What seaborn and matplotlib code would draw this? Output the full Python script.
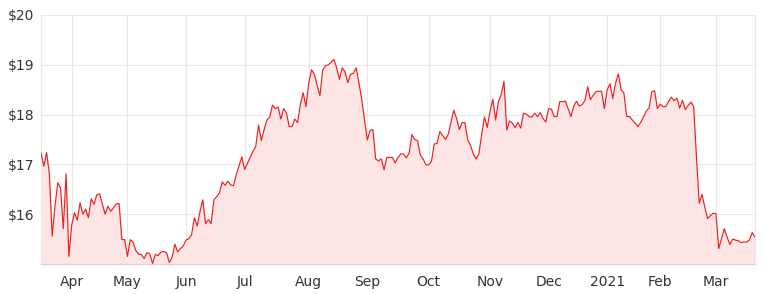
import numpy as np
import pandas as pd
import matplotlib
matplotlib.use("Agg")
import matplotlib.pyplot as plt
import seaborn as sns

# ---- data ----
start_date = "2020-03-17"
end_date = "2021-03-19"
holidays = ["2020-04-10", "2020-04-13", "2020-06-08", "2020-12-25",
            "2020-12-28", "2021-01-01", "2021-01-26"]

price = [
    17.23, 16.96, 17.24, 16.81, 15.56, 16.15, 16.63, 16.53, 15.71, 16.81,
    15.15, 15.78, 16.03, 15.88, 16.23, 16.00, 16.10, 15.93, 16.31, 16.20,
    16.39, 16.41, 16.20, 16.00, 16.16, 16.06, 16.13, 16.21, 16.21, 15.49,
    15.49, 15.15, 15.49, 15.44, 15.27, 15.20, 15.19, 15.11, 15.23, 15.20,
    15.01, 15.19, 15.17, 15.24, 15.25, 15.23, 15.03, 15.13, 15.40, 15.24,
    15.31, 15.36, 15.48, 15.51, 15.59, 15.93, 15.76, 16.05, 16.29, 15.81,
    15.89, 15.81, 16.29, 16.35, 16.43, 16.65, 16.58, 16.66, 16.59, 16.57,
    16.79, 16.97, 17.15, 16.90, 17.02, 17.14, 17.26, 17.36, 17.79, 17.48,
    17.70, 17.89, 17.95, 18.19, 18.12, 18.15, 17.91, 18.12, 18.03, 17.76,
    17.76, 17.91, 17.84, 18.21, 18.44, 18.16, 18.63, 18.90, 18.81, 18.59,
    18.38, 18.89, 18.98, 19.00, 19.05, 19.11, 18.94, 18.71, 18.94, 18.86,
    18.64, 18.81, 18.83, 18.94, 18.63, 18.30, 17.89, 17.49, 17.68, 17.70,
    17.11, 17.07, 17.11, 16.89, 17.14, 17.14, 17.14, 17.03, 17.14, 17.21,
    17.21, 17.13, 17.23, 17.60, 17.50, 17.48, 17.19, 17.11, 16.99, 16.99,
    17.06, 17.41, 17.42, 17.66, 17.58, 17.50, 17.60, 17.85, 18.09, 17.92,
    17.70, 17.84, 17.84, 17.49, 17.38, 17.21, 17.11, 17.21, 17.60, 17.95,
    17.74, 18.07, 18.31, 17.89, 18.26, 18.40, 18.67, 17.69, 17.87, 17.83,
    17.74, 17.84, 17.73, 18.03, 18.01, 17.96, 17.95, 18.03, 17.96, 18.04,
    17.92, 17.85, 18.12, 18.11, 17.96, 17.96, 18.26, 18.26, 18.27, 18.12,
    17.96, 18.17, 18.27, 18.17, 18.20, 18.28, 18.56, 18.30, 18.39, 18.46,
    18.47, 18.47, 18.12, 18.50, 18.62, 18.32, 18.63, 18.82, 18.50, 18.43,
    17.96, 17.96, 17.89, 17.83, 17.76, 17.84, 17.95, 18.07, 18.13, 18.46,
    18.48, 18.12, 18.21, 18.16, 18.16, 18.26, 18.35, 18.28, 18.33, 18.13,
    18.29, 18.10, 18.18, 18.25, 18.17, 17.16, 16.22, 16.40, 16.14, 15.91,
    15.97, 16.02, 16.01, 15.31, 15.51, 15.71, 15.54, 15.39, 15.50, 15.48,
    15.47, 15.43, 15.44, 15.44, 15.48, 15.63, 15.54,
]

y_ticks = [16, 17, 18, 19, 20]
y_tick_labels = ["$16", "$17", "$18", "$19", "$20"]

# ---- build trading-day axis ----
dates = pd.bdate_range(start_date, end_date)
dates = dates[~dates.isin(pd.to_datetime(holidays))]
n = min(len(dates), len(price))
dates = dates[:n]
df = pd.DataFrame({"idx": np.arange(n), "date": dates, "price": price[:n]})

# first trading day of each month (after the first partial month)
months = df.groupby(df["date"].dt.to_period("M"))["idx"].min()
tick_pos, tick_lab = [], []
for per, i in months.items():
    if i == 0:
        continue
    tick_pos.append(i)
    tick_lab.append(str(per.year) if per.month == 1 else per.strftime("%b"))

# ---- plot ----
sns.set_theme(style="white")
plt.rcParams["font.family"] = ["DejaVu Sans"]

fig = plt.figure(figsize=(7.63, 2.94), dpi=100)
ax = fig.add_axes([41 / 763, 1 - 264 / 294, (755 - 41) / 763, (264 - 15) / 294])

line_color = "#f01e1e"
ax.fill_between(df["idx"], df["price"], 15, color="#fde5e5", linewidth=0, zorder=1)
sns.lineplot(data=df, x="idx", y="price", ax=ax, color=line_color,
             linewidth=0.85, zorder=3)

ax.set_xlim(0, n - 1)
ax.set_ylim(15, 20)
ax.set_yticks(y_ticks)
ax.set_yticklabels(y_tick_labels)
ax.set_xticks(tick_pos)
ax.set_xticklabels(tick_lab)
ax.set_xlabel("")
ax.set_ylabel("")

grid_c = "#e8e8e8"
ax.grid(True, color=grid_c, linewidth=0.8, zorder=0)
ax.set_axisbelow(True)
for side in ["left", "right"]:
    ax.spines[side].set_visible(True)
    ax.spines[side].set_color(grid_c)
    ax.spines[side].set_linewidth(0.8)
ax.spines["top"].set_visible(False)
ax.spines["bottom"].set_color("#e0d2d2")
ax.spines["bottom"].set_linewidth(1.0)

ax.tick_params(axis="both", length=0, labelsize=10, colors="#333333")
ax.tick_params(axis="x", pad=8)
ax.tick_params(axis="y", pad=5)

fig.savefig("out.png", dpi=100)
